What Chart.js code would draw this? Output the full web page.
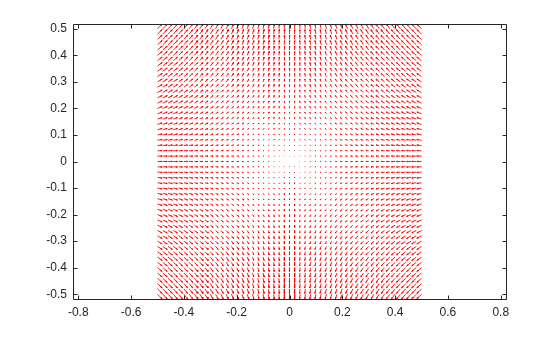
<!DOCTYPE html>
<html>
<head>
<meta charset="utf-8">
<script src="https://cdn.jsdelivr.net/npm/chart.js@4/dist/chart.umd.min.js"></script>
<style>
html,body{margin:0;padding:0;background:#fff;}
canvas{display:block;}
</style>
</head>
<body>
<canvas id="c" width="560" height="337"></canvas>
<script>
// Grid positions of the arrows (columns and rows)
const xGrid = [-0.5,-0.48,-0.46,-0.44,-0.42,-0.4,-0.38,-0.36,-0.34,-0.32,-0.3,-0.28,-0.26,-0.24,-0.22,-0.2,-0.18,-0.16,-0.14,-0.12,-0.1,-0.08,-0.06,-0.04,-0.02,0,0.02,0.04,0.06,0.08,0.1,0.12,0.14,0.16,0.18,0.2,0.22,0.24,0.26,0.28,0.3,0.32,0.34,0.36,0.38,0.4,0.42,0.44,0.46,0.48,0.5];
const yGrid = [-0.5,-0.48,-0.46,-0.44,-0.42,-0.4,-0.38,-0.36,-0.34,-0.32,-0.3,-0.28,-0.26,-0.24,-0.22,-0.2,-0.18,-0.16,-0.14,-0.12,-0.1,-0.08,-0.06,-0.04,-0.02,0,0.02,0.04,0.06,0.08,0.1,0.12,0.14,0.16,0.18,0.2,0.22,0.24,0.26,0.28,0.3,0.32,0.34,0.36,0.38,0.4,0.42,0.44,0.46,0.48,0.5];
// Vector components: U depends on the column only, V on the row only
const uByColumn = [0.5,0.48,0.46,0.44,0.42,0.4,0.38,0.36,0.34,0.32,0.3,0.28,0.26,0.24,0.22,0.2,0.18,0.16,0.14,0.12,0.1,0.08,0.06,0.04,0.02,0,-0.02,-0.04,-0.06,-0.08,-0.1,-0.12,-0.14,-0.16,-0.18,-0.2,-0.22,-0.24,-0.26,-0.28,-0.3,-0.32,-0.34,-0.36,-0.38,-0.4,-0.42,-0.44,-0.46,-0.48,-0.5];
const vByRow = [-0.5,-0.48,-0.46,-0.44,-0.42,-0.4,-0.38,-0.36,-0.34,-0.32,-0.3,-0.28,-0.26,-0.24,-0.22,-0.2,-0.18,-0.16,-0.14,-0.12,-0.1,-0.08,-0.06,-0.04,-0.02,0,0.02,0.04,0.06,0.08,0.1,0.12,0.14,0.16,0.18,0.2,0.22,0.24,0.26,0.28,0.3,0.32,0.34,0.36,0.38,0.4,0.42,0.44,0.46,0.48,0.5];
// Tick values and labels
const xTicks = [-0.8,-0.6,-0.4,-0.2,0,0.2,0.4,0.6,0.8];
const xTickLabels = ['-0.8','-0.6','-0.4','-0.2','0','0.2','0.4','0.6','0.8'];
const yTicks = [-0.5,-0.4,-0.3,-0.2,-0.1,0,0.1,0.2,0.3,0.4,0.5];
const yTickLabels = ['-0.5','-0.4','-0.3','-0.2','-0.1','0','0.1','0.2','0.3','0.4','0.5'];

// MATLAB-style quiver autoscaling
const n = xGrid.length, m = yGrid.length;
const delx = (xGrid[n-1]-xGrid[0])/n, dely = (yGrid[m-1]-yGrid[0])/m;
const del = delx*delx + dely*dely;
let maxlen = 0;
for (let i=0;i<n;i++) for (let j=0;j<m;j++) {
  const l = Math.sqrt((uByColumn[i]*uByColumn[i] + vByRow[j]*vByRow[j])/del);
  if (l>maxlen) maxlen=l;
}
const scaleF = maxlen>0 ? 0.9/maxlen : 1;
const alpha = 0.33, beta = 0.25, eps = 1e-12;
const pts = [];
for (let i=0;i<n;i++) {
  for (let j=0;j<m;j++) {
    const x = xGrid[i], y = yGrid[j];
    const u = uByColumn[i]*scaleF, v = vByRow[j]*scaleF;
    const tx = x+u, ty = y+v;
    pts.push({x:x,y:y},{x:tx,y:ty},{x:tx,y:null});
    if (Math.abs(u)+Math.abs(v) > 0) {
      pts.push({x: tx - alpha*(u + beta*(v+eps)), y: ty - alpha*(v - beta*(u+eps))});
      pts.push({x: tx, y: ty});
      pts.push({x: tx - alpha*(u - beta*(v+eps)), y: ty - alpha*(v + beta*(u+eps))});
      pts.push({x: tx, y: null});
    }
  }
}

const axisColor = '#262626';
const frame = {
  id: 'frame',
  afterDraw(chart) {
    const ctx = chart.ctx, a = chart.chartArea;
    const xs = chart.scales.x, ys = chart.scales.y;
    ctx.save();
    ctx.strokeStyle = axisColor;
    ctx.lineWidth = 1;
    const L = Math.floor(a.left)+0.5, R = Math.floor(a.right)+0.5, T = Math.floor(a.top)+0.5, B = Math.floor(a.bottom)+0.5;
    ctx.beginPath();
    ctx.rect(L, T, R-L, B-T);
    ctx.stroke();
    const tl = 4;
    ctx.beginPath();
    xTicks.forEach(v => {
      const p = Math.round(xs.getPixelForValue(v))+0.5;
      ctx.moveTo(p, B); ctx.lineTo(p, B-tl);
      ctx.moveTo(p, T); ctx.lineTo(p, T+tl);
    });
    yTicks.forEach(v => {
      const p = Math.round(ys.getPixelForValue(v))+0.5;
      ctx.moveTo(L, p); ctx.lineTo(L+tl, p);
      ctx.moveTo(R, p); ctx.lineTo(R-tl, p);
    });
    ctx.stroke();
    ctx.restore();
  }
};

new Chart(document.getElementById('c'), {
  type: 'scatter',
  data: {
    datasets: [{
      data: pts,
      showLine: true,
      spanGaps: false,
      borderColor: '#ff0000',
      borderWidth: 0.9,
      pointRadius: 0,
      pointHoverRadius: 0,
      fill: false,
      tension: 0
    }]
  },
  options: {
    responsive: false,
    devicePixelRatio: 1,
    animation: false,
    events: [],
    layout: { padding: { left: 0, top: 24, right: 54, bottom: 0 } },
    plugins: { legend: { display: false }, tooltip: { enabled: false } },
    scales: {
      x: {
        type: 'linear', min: -0.82, max: 0.82,
        afterBuildTicks: s => { s.ticks = xTicks.map(v => ({ value: v })); },
        afterFit: s => { s.height = 38; },
        grid: { display: true, drawOnChartArea: false, drawTicks: false, color: 'rgba(0,0,0,0)' },
        border: { display: false },
        ticks: {
          padding: 6, color: axisColor, maxRotation: 0, autoSkip: false,
          font: { family: 'Liberation Sans, Arial, Helvetica, sans-serif', size: 12 },
          callback: (v, i) => xTickLabels[i]
        }
      },
      y: {
        type: 'linear', min: -0.518, max: 0.518,
        afterBuildTicks: s => { s.ticks = yTicks.map(v => ({ value: v })); },
        afterFit: s => { s.width = 73; },
        grid: { display: true, drawOnChartArea: false, drawTicks: false, color: 'rgba(0,0,0,0)' },
        border: { display: false },
        ticks: {
          padding: 6, color: axisColor, autoSkip: false,
          font: { family: 'Liberation Sans, Arial, Helvetica, sans-serif', size: 12 },
          callback: (v, i) => yTickLabels[i]
        }
      }
    }
  },
  plugins: [frame]
});
</script>
</body>
</html>
